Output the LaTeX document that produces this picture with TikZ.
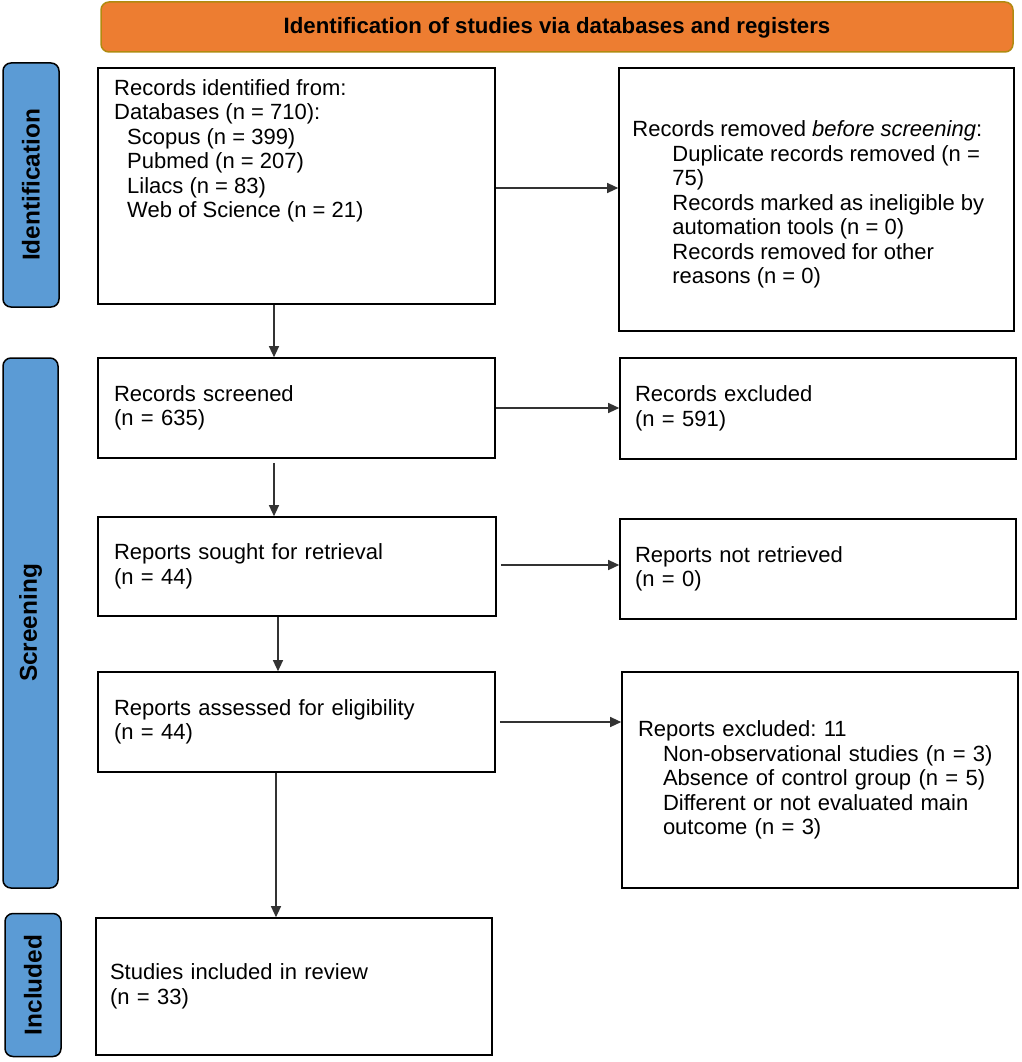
\documentclass[tikz,border=0pt]{standalone}
\usepackage{fontspec}
\setmainfont{Liberation Sans}
\usetikzlibrary{arrows.meta,positioning}
\definecolor{hdrfill}{HTML}{ED7D31}
\definecolor{hdrdraw}{HTML}{B08A10}
\definecolor{barfill}{HTML}{5B9BD5}
\frenchspacing
\begin{document}
\begin{tikzpicture}[x=1pt,y=-1pt,
  every node/.style={font=\fontsize{22}{24.5}\selectfont},
  box/.style={draw=black, line width=1.6pt, fill=white, inner xsep=15pt, align=left},
  hdr/.style={draw=hdrdraw, fill=hdrfill, line width=1.5pt, rounded corners=8pt, text height=14pt, text depth=0pt, font=\bfseries\fontsize{22.2}{24}\selectfont},
  bar/.style={draw=black, fill=barfill, line width=1.5pt, rounded corners=8pt},
  barlab/.style={rotate=90, font=\bfseries\fontsize{24.4}{26}\selectfont},
  arr/.style={-{Triangle[length=11pt,width=10pt]}, line width=1.2pt, draw=black!80}]
\useasboundingbox (0,0) rectangle (1021,1062);
% header
\node[hdr, minimum width=912pt, minimum height=50pt] (hdr) at (557,27) {Identification of studies via databases and registers};
% side bars
\node[bar, minimum width=56pt, minimum height=244pt] (barid) at (31,185) {};
\node[barlab] (labid) at (barid.center) {Identification};
\node[bar, minimum width=55pt, minimum height=530pt] (barsc) at (30.5,623) {};
\node[barlab] (labsc) at (barsc.center) {Screening};
\node[bar, minimum width=56pt, minimum height=143pt] (barin) at (33,985) {};
\node[barlab] (labin) at (barin.center) {Included};
% boxes
\node[box, minimum width=397pt, minimum height=236pt] (ident) at (296.5,186) {};
\node[anchor=north west, inner sep=0pt, align=left] (identtxt) at (114,79) {Records identified from:\\Databases (n = 710):\\\hspace*{13pt}Scopus (n = 399)\\\hspace*{13pt}Pubmed (n = 207)\\\hspace*{13pt}Lilacs (n = 83)\\\hspace*{13pt}Web of Science (n = 21)};
\node[box, minimum width=395pt, minimum height=263pt] (removed) at (816.5,199.5) {};
\node[anchor=west, inner sep=0pt, align=left] (removedtxt) at ([xshift=14pt,yshift=-5pt]removed.west) {Records removed \textit{before screening}:\\\hspace*{40pt}Duplicate records removed (n =\\\hspace*{40pt}75)\\\hspace*{40pt}Records marked as ineligible by\\\hspace*{40pt}automation tools (n = 0)\\\hspace*{40pt}Records removed for other\\\hspace*{40pt}reasons (n = 0)};
\node[box, minimum width=397pt, minimum height=100pt, text width=365pt, inner xsep=16pt] (screened) at (296.5,408) {Records screened\\(n = 635)};
\node[box, minimum width=396pt, minimum height=101pt, text width=366pt] (excluded) at (818,408.5) {Records excluded\\(n = 591)};
\node[box, minimum width=398pt, minimum height=99pt, text width=366pt, inner xsep=16pt] (sought) at (297,566.5) {Reports sought for retrieval\\(n = 44)};
\node[box, minimum width=396pt, minimum height=100pt, text width=366pt] (notret) at (818,569) {Reports not retrieved\\(n = 0)};
\node[box, minimum width=397pt, minimum height=100pt, text width=365pt, inner xsep=16pt] (assessed) at (296.5,722) {Reports assessed for eligibility\\(n = 44)};
\node[box, minimum width=396pt, minimum height=216pt, text width=364pt, inner xsep=16pt] (repexcl) at (820,780) {Reports excluded: 11\\\hspace*{25pt}Non-observational studies (n = 3)\\\hspace*{25pt}Absence of control group (n = 5)\\\hspace*{25pt}Different or not evaluated main\\\hspace*{25pt}outcome (n = 3)};
\node[box, minimum width=396pt, minimum height=137pt, text width=368pt, inner xsep=14pt] (included) at (294,986.5) {Studies included in review\\(n = 33)};
% vertical arrows
\draw[arr] ([xshift=-22.5pt]ident.south) -- ([xshift=-22.5pt]ident.south |- screened.north);
\draw[arr, shorten <=4pt] ([xshift=-22.5pt]screened.south) -- ([xshift=-22.5pt]screened.south |- sought.north);
\draw[arr] ([xshift=-19pt]sought.south) -- ([xshift=-19pt]sought.south |- assessed.north);
\draw[arr] ([xshift=-20.5pt]assessed.south) -- ([xshift=-20.5pt]assessed.south |- included.north);
% horizontal arrows
\draw[arr] ([yshift=-2pt]ident.east) -- ([yshift=-2pt]ident.east -| removed.west);
\draw[arr] (screened.east) -- (screened.east -| excluded.west);
\draw[arr, shorten <=4pt] ([yshift=1.5pt]sought.east) -- ([yshift=1.5pt]sought.east -| notret.west);
\draw[arr, shorten <=4pt] (assessed.east) -- (assessed.east -| repexcl.west);
\end{tikzpicture}
\end{document}
